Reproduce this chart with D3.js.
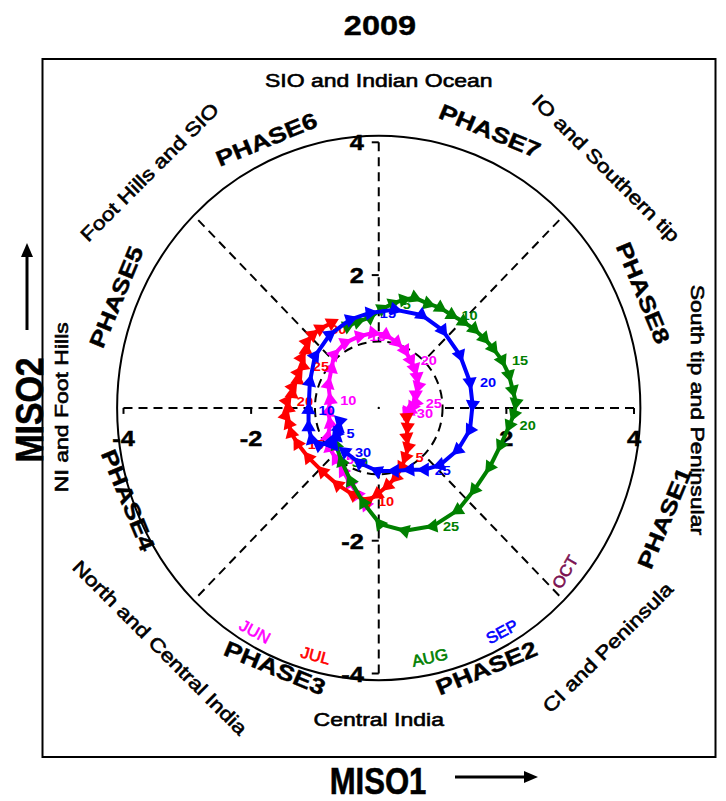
<!DOCTYPE html>
<html><head><meta charset="utf-8">
<script src="https://cdn.jsdelivr.net/npm/d3@7/dist/d3.min.js"></script>
<style>
body{margin:0;background:#fff}
svg text{font-family:"Liberation Sans",Arial,Helvetica,sans-serif}
</style>
</head><body>
<svg id="c" width="726" height="801"></svg>
<script>
// ---------- data (MISO1, MISO2) per day ----------
const titleText = "2009";
const monthNames = ["JUN","JUL","AUG","SEP","OCT"];
const monthColors = ["#ff00ff","#ff0000","#008000","#0000ff","#7a1050"];
const xTicks = [-4,-2,2,4];
const yTicks = [4,2,-2,-4];
const phaseNames = ["PHASE1","PHASE2","PHASE3","PHASE4","PHASE5","PHASE6","PHASE7","PHASE8"];
const regionNames = ["South tip and Peninsular","IO and Southern tip","SIO and Indian Ocean","Foot Hills and SIO",
  "NI and Foot Hills","North and Central India","Central India","CI and Peninsula"];

const jun = [
 [-0.20,-1.46],[-0.33,-1.30],[-0.45,-1.13],[-0.56,-0.95],[-0.67,-0.77],[-0.77,-0.60],[-0.80,-0.44],[-0.76,-0.24],[-0.79,-0.06],[-0.76,0.12],
 [-0.79,0.35],[-0.74,0.59],[-0.70,0.80],[-0.53,0.98],[-0.30,1.08],[-0.09,1.13],[0.11,1.10],[0.28,0.99],[0.41,0.87],[0.50,0.72],
 [0.56,0.60],[0.60,0.47],[0.62,0.33],[0.58,0.20],[0.58,0.08],[0.53,0.02],[0.50,-0.03],[0.47,-0.05],[0.45,-0.06],[0.44,-0.08]];
const jul = [
 [0.44,-0.14],[0.45,-0.29],[0.44,-0.44],[0.46,-0.59],[0.42,-0.74],[0.36,-0.89],[0.27,-1.04],[0.14,-1.17],[-0.02,-1.30],[-0.17,-1.40],
 [-0.40,-1.31],[-0.64,-1.16],[-0.88,-0.96],[-1.10,-0.75],[-1.27,-0.54],[-1.37,-0.38],[-1.41,-0.24],[-1.46,-0.12],[-1.42,-0.01],[-1.44,0.10],
 [-1.36,0.21],[-1.35,0.31],[-1.27,0.42],[-1.26,0.53],[-1.19,0.63],[-1.21,0.75],[-1.14,0.87],[-1.13,0.99],[-1.04,1.10],[-0.92,1.19],[-0.74,1.28]];
const aug = [
 [-0.49,1.23],[-0.33,1.30],[-0.14,1.36],[0.05,1.49],[0.22,1.57],[0.39,1.63],[0.56,1.66],[0.77,1.57],[0.96,1.51],[1.14,1.40],
 [1.32,1.30],[1.49,1.19],[1.65,1.05],[1.79,0.90],[1.93,0.72],[2.04,0.50],[2.10,0.27],[2.15,0.08],[2.12,-0.09],[2.05,-0.26],
 [1.91,-0.56],[1.74,-0.89],[1.50,-1.23],[1.24,-1.54],[0.85,-1.78],[0.41,-1.85],[0.02,-1.75],[-0.24,-1.43],[-0.44,-1.10],[-0.58,-0.81],[-0.67,-0.56]];
const sep = [
 [-0.71,-0.56],[-0.66,-0.44],[-0.63,-0.30],[-0.61,-0.20],[-0.66,-0.38],[-0.78,-0.53],[-0.94,-0.56],[-1.05,-0.48],[-1.10,-0.29],[-1.10,-0.03],
 [-1.08,0.39],[-1.00,0.78],[-0.77,1.10],[-0.45,1.33],[-0.14,1.43],[0.25,1.48],[0.67,1.40],[1.00,1.17],[1.27,0.80],[1.43,0.39],
 [1.47,0.05],[1.43,-0.33],[1.24,-0.63],[0.96,-0.86],[0.72,-0.93],[0.49,-0.93],[0.25,-0.95],[-0.02,-0.95],[-0.30,-0.83],[-0.53,-0.66]];
const seriesList = [jun, jul, aug, sep];

// ---------- layout ----------
const svg = d3.select("#c");
const x = d3.scaleLinear().domain([-4,4]).range([123.5,634]);
const y = d3.scaleLinear().domain([-4,4]).range([673.5,142.3]);
const cx = x(0), cy = y(0), kx = x(1)-x(0), ky = y(0)-y(1);

function fit(sel, factor){
  const L = sel.node().getComputedTextLength();
  sel.attr("textLength", L*factor).attr("lengthAdjust","spacingAndGlyphs");
  return sel;
}
function label(px, py, txt, size, weight, rot, color, factor, thick){
  const t = svg.append("text")
    .attr("transform",`translate(${px},${py}) rotate(${rot})`)
    .attr("text-anchor","middle").attr("dominant-baseline","central")
    .attr("font-size",size).attr("font-weight",weight).attr("fill",color||"#000")
    .text(txt);
  if (thick) t.attr("stroke",color||"#000").attr("stroke-width",thick);
  fit(t, factor);
  return t;
}

// frame
svg.append("rect").attr("x",42.5).attr("y",59).attr("width",673).attr("height",698)
  .attr("fill","none").attr("stroke","#000").attr("stroke-width",2);

// title
fit(svg.append("text").attr("x",380).attr("y",35).attr("text-anchor","middle")
  .attr("font-size",28).attr("font-weight","bold").attr("stroke","#000").attr("stroke-width",0.4)
  .text(titleText), 1.16);

// outer circle (radius 4.1 in data units) and inner dashed circle (radius 1)
svg.append("ellipse").attr("cx",cx).attr("cy",cy).attr("rx",4.1*kx).attr("ry",4.1*ky)
  .attr("fill","none").attr("stroke","#000").attr("stroke-width",2);
svg.append("ellipse").attr("cx",cx).attr("cy",cy).attr("rx",kx).attr("ry",ky)
  .attr("fill","none").attr("stroke","#000").attr("stroke-width",2).attr("stroke-dasharray","9,6");

// radial dashed phase separators
d3.range(8).forEach(i=>{
  const a = i*Math.PI/4;
  svg.append("line")
    .attr("x1",x(4*Math.cos(a))).attr("y1",y(4*Math.sin(a)))
    .attr("x2",x(Math.cos(a))).attr("y2",y(Math.sin(a)))
    .attr("stroke","#000").attr("stroke-width",2).attr("stroke-dasharray","9,6");
});
svg.append("circle").attr("cx",cx).attr("cy",cy).attr("r",1.2).attr("fill","#000");

// ticks
xTicks.forEach(v=>{
  svg.append("line").attr("x1",x(v)).attr("x2",x(v)).attr("y1",cy).attr("y2",cy+6)
    .attr("stroke","#000").attr("stroke-width",2);
  fit(svg.append("text").attr("x",x(v)).attr("y",cy+38).attr("text-anchor","middle")
    .attr("font-size",22).attr("font-weight","bold").attr("stroke","#000").attr("stroke-width",0.5)
    .text(v), 1.15);
});
yTicks.forEach(v=>{
  svg.append("line").attr("x1",cx-7).attr("x2",cx).attr("y1",y(v)).attr("y2",y(v))
    .attr("stroke","#000").attr("stroke-width",2);
  fit(svg.append("text").attr("x",cx-15).attr("y",y(v)+8).attr("text-anchor","end")
    .attr("font-size",22).attr("font-weight","bold").attr("stroke","#000").attr("stroke-width",0.5)
    .text(v), 1.15);
});

// region labels (position in data units + rotation)
const regionLayout = [[5.0,-0.03,90],[3.56,3.61,45],[0,4.93,0],[-3.59,3.55,-45],
                      [-4.97,0.01,-90],[-3.43,-3.61,45],[0,-4.70,0],[3.59,-3.61,-45]];
regionNames.forEach((s,i)=>{
  const L = regionLayout[i];
  label(x(L[0]), y(L[1]), s, 19, "normal", L[2], "#000", 1.21, 0.6);
});

// phase labels
const phaseLayout = [[4.48,-1.66,-67.5],[1.69,-3.92,-22.5],[-1.63,-3.92,22.5],[-3.93,-1.39,67.5],
                     [-4.11,1.67,-67.5],[-1.76,4.04,-22.5],[1.74,4.17,22.5],[4.14,1.73,67.5]];
phaseNames.forEach((s,i)=>{
  const L = phaseLayout[i];
  label(x(L[0]), y(L[1]), s, 22, "bold", L[2], "#000", 1.22, 0.4);
});

// month legend labels
const monthLayout = [[-1.94,-3.37,28],[-0.99,-3.73,15],[0.80,-3.76,-12],[1.93,-3.37,-28],[2.92,-2.47,-60]];
monthNames.forEach((s,i)=>{
  const L = monthLayout[i];
  label(x(L[0]), y(L[1]), s, 16, "normal", L[2], monthColors[i], 1.05, 0.6);
});

// trajectories
const line = d3.line().x(d=>x(d[0])).y(d=>y(d[1]));
const tri = d3.symbol(d3.symbolTriangle, 88)();
seriesList.forEach((pts, si)=>{
  const col = monthColors[si];
  const g = svg.append("g");
  g.append("path").attr("d", line(pts)).attr("fill","none").attr("stroke",col)
    .attr("stroke-width",4).attr("stroke-linejoin","round");
  pts.forEach((p,i)=>{
    const a = i < pts.length-1 ? p : pts[i-1];
    const b = i < pts.length-1 ? pts[i+1] : p;
    const ang = Math.atan2(y(b[1])-y(a[1]), x(b[0])-x(a[0]))*180/Math.PI + 90;
    g.append("path").attr("d", tri)
      .attr("transform",`translate(${x(p[0])},${y(p[1])}) rotate(${ang})`)
      .attr("fill",col);
  });
  pts.forEach((p,i)=>{
    if ((i+1) % 5 === 0) {
      fit(g.append("text").attr("x",x(p[0])+10).attr("y",y(p[1])+5)
        .attr("font-size",13).attr("font-weight","bold").attr("fill",col).text(i+1), 1.12);
    }
  });
});

// axis titles with arrows
fit(svg.append("text").attr("x",378).attr("y",794).attr("text-anchor","middle")
  .attr("font-size",37).attr("font-weight","bold").attr("stroke","#000").attr("stroke-width",0.6)
  .text("MISO1"), 0.84);
svg.append("line").attr("x1",455).attr("x2",527).attr("y1",777).attr("y2",777)
  .attr("stroke","#000").attr("stroke-width",3);
svg.append("path").attr("d","M538,777 L524,771 L524,783 Z").attr("fill","#000");

const m2 = svg.append("text").attr("transform","translate(43,410) rotate(-90)")
  .attr("text-anchor","middle").attr("font-size",38).attr("font-weight","bold")
  .attr("stroke","#000").attr("stroke-width",0.6).text("MISO2");
fit(m2, 0.89);
svg.append("line").attr("x1",27).attr("x2",27).attr("y1",330).attr("y2",254)
  .attr("stroke","#000").attr("stroke-width",3);
svg.append("path").attr("d","M27,243 L21,257 L33,257 Z").attr("fill","#000");
</script>
</body></html>
